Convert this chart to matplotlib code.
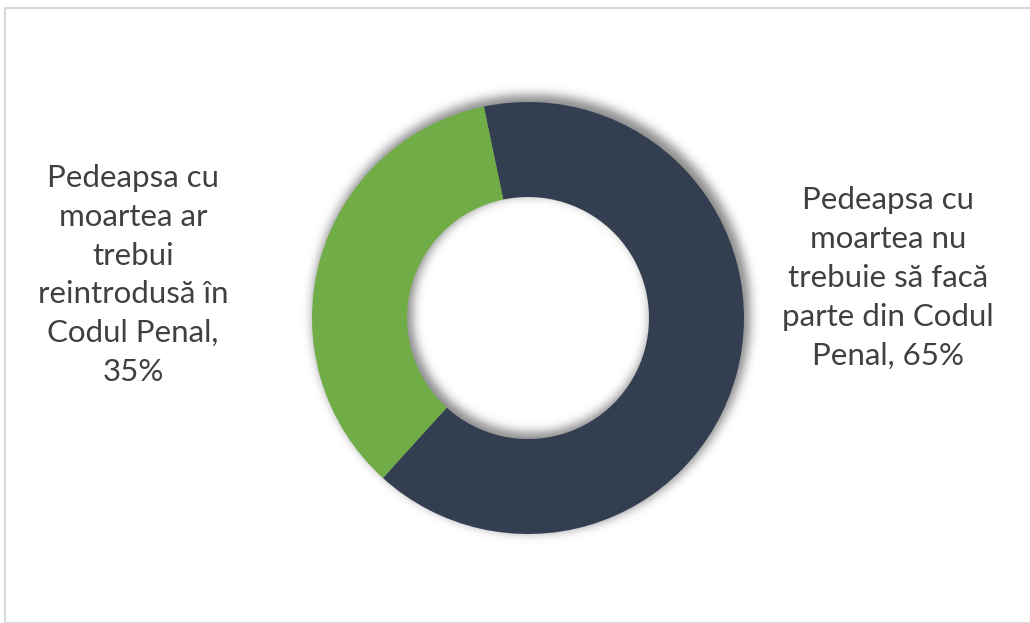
import numpy as np
import matplotlib
matplotlib.use('Agg')
import matplotlib.pyplot as plt
from matplotlib.patches import Rectangle

labels = ['Pedeapsa cu\nmoartea nu\ntrebuie să facă\nparte din Codul\nPenal, 65%',
          'Pedeapsa cu\nmoartea ar\ntrebui\nreintrodusă în\nCodul Penal,\n35%']
values = [65, 35]
colors = ['#333F50', '#70AD47']

W, H = 1030, 623
fig = plt.figure(figsize=(W / 100, H / 100), dpi=100)
ax = fig.add_axes([0, 0, 1, 1])

cx, cy = 528, H - 318
r_out, r_in = 216, 121

# soft shadow under the ring, offset up/right
xs = np.arange(cx - 300, cx + 300)
ys = np.arange(cy - 300, cy + 300)
gx, gy = np.meshgrid(xs, ys)
d = np.hypot(gx - (cx + 3), gy - (cy + 4))
mask = ((d <= r_out + 3) & (d >= r_in - 2)).astype(float)
sig = 5
k = np.exp(-0.5 * (np.arange(-15, 16) / sig) ** 2)
k /= k.sum()
blur = np.apply_along_axis(lambda m: np.convolve(m, k, mode='same'), 0, mask)
blur = np.apply_along_axis(lambda m: np.convolve(m, k, mode='same'), 1, blur)
rgba = np.zeros(blur.shape + (4,))
rgba[..., :3] = 0.25
rgba[..., 3] = blur * 0.6
ax.imshow(rgba, extent=(xs[0], xs[-1] + 1, ys[0], ys[-1] + 1), origin='lower',
          zorder=1, interpolation='bilinear')

ax.pie(values, colors=colors, startangle=101.8, counterclock=False,
       center=(cx, cy), radius=r_out,
       wedgeprops=dict(width=r_out - r_in, edgecolor='none', zorder=2))

ax.set_xlim(0, W)
ax.set_ylim(0, H)
ax.set_aspect('equal')
ax.axis('off')

tkw = dict(ha='center', va='center', fontsize=22.5, color='#404040',
           family=['Lato', 'DejaVu Sans'], linespacing=1.47)
ax.text(888, H - 278, labels[0], **tkw)
ax.text(133, H - 275, labels[1], **tkw)

fig.patches.append(Rectangle((5 / W, 0), 2, (H - 8) / H, transform=fig.transFigure,
                             fill=False, edgecolor='#D9D9D9', linewidth=1.5))

fig.savefig('out.png', dpi=100, facecolor='white')
